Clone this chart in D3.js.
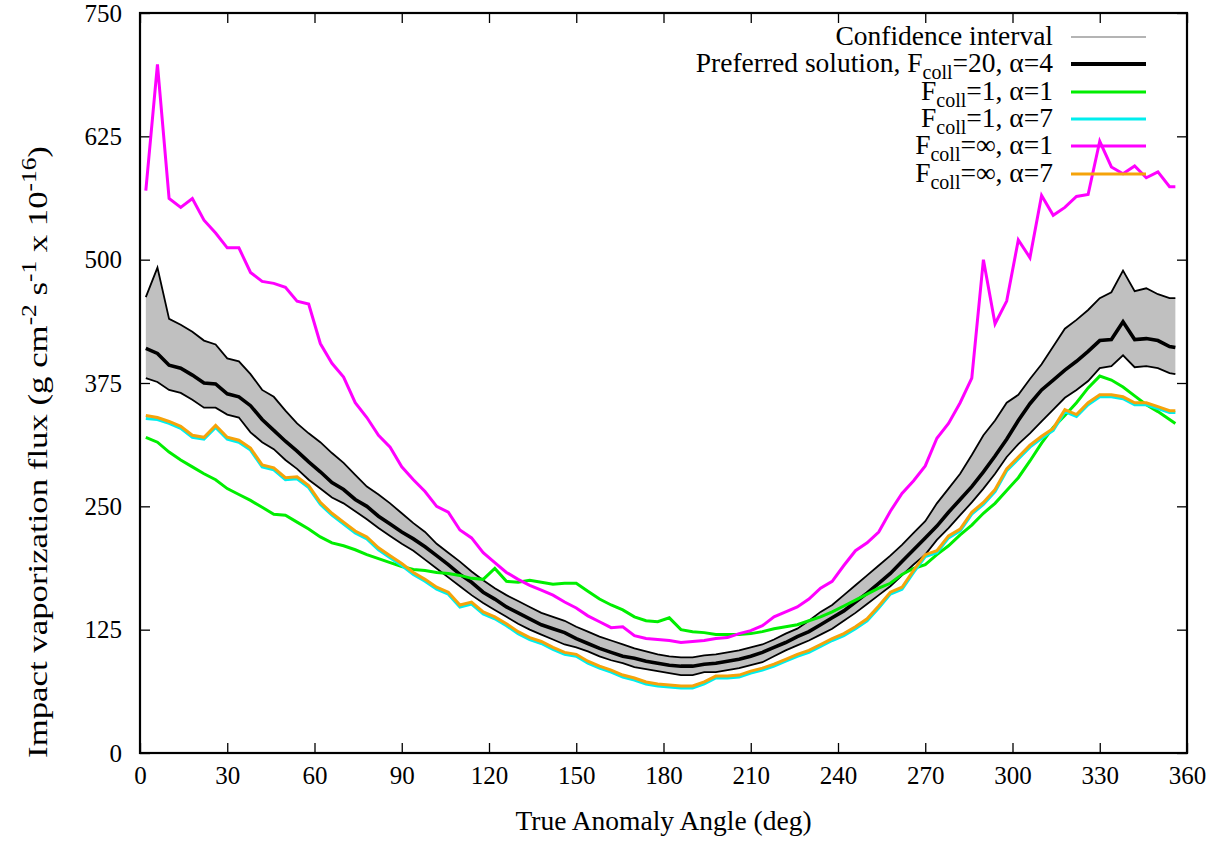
<!DOCTYPE html>
<html>
<head>
<meta charset="utf-8">
<script src="https://cdnjs.cloudflare.com/ajax/libs/d3/7.8.5/d3.min.js"></script>
<style>
    body { margin: 0; background: #fff; }
    svg text { font-family: "Liberation Serif", "Times New Roman", "DejaVu Serif", serif; fill: #000; }
</style>
</head>
<body>
<svg id="chart" width="1222" height="841"></svg>
<script>

// true anomaly angle (deg)
var angles = [2, 6, 10, 14, 18, 22, 26, 30, 34, 38,
    42, 46, 50, 54, 58, 62, 66, 70, 74, 78,
    82, 86, 90, 94, 98, 102, 106, 110, 114, 118,
    122, 126, 130, 134, 138, 142, 146, 150, 154, 158,
    162, 166, 170, 174, 178, 182, 186, 190, 194, 198,
    202, 206, 210, 214, 218, 222, 226, 230, 234, 238,
    242, 246, 250, 254, 258, 262, 266, 270, 274, 278,
    282, 286, 290, 294, 298, 302, 306, 310, 314, 318,
    322, 326, 330, 334, 338, 342, 346, 350, 354, 356];

// preferred solution, Fcoll=20, alpha=4
var preferred = [410, 405, 393, 390, 383, 375, 374, 364, 361, 352,
    338, 327, 316, 306, 295, 285, 274, 267, 257, 250,
    240, 232, 224, 217, 209, 200, 191, 181, 173, 163,
    156, 148, 142, 136, 130, 126, 122, 116, 111, 106,
    102, 98, 96, 93, 91, 89, 88, 88, 90, 91,
    93, 95, 98, 102, 107, 112, 118, 123, 130, 137,
    144, 153, 162, 172, 182, 194, 206, 218, 230, 244,
    257, 270, 285, 301, 318, 337, 354, 368, 378, 388,
    397, 407, 418, 419, 437, 419, 420, 418, 412, 411];

// confidence interval
var ciUpper = [462, 492, 440, 434, 427, 418, 414, 400, 397, 384,
    368, 361, 347, 334, 324, 315, 304, 294, 282, 270,
    262, 253, 243, 233, 224, 212, 203, 194, 184, 175,
    167, 160, 154, 148, 142, 138, 134, 128, 123, 118,
    114, 110, 106, 103, 100, 98, 97, 97, 99, 100,
    102, 104, 107, 110, 115, 121, 126, 134, 143, 150,
    160, 170, 180, 190, 200, 211, 223, 235, 253, 268,
    283, 302, 322, 337, 355, 363, 379, 394, 412, 430,
    439, 449, 461, 467, 489, 468, 471, 465, 461, 461];

var ciLower = [380, 376, 368, 365, 358, 350, 350, 343, 340, 325,
    315, 308, 297, 288, 277, 268, 259, 253, 245, 237,
    228, 220, 212, 205, 196, 187, 178, 169, 160, 152,
    145, 138, 131, 125, 120, 115, 110, 107, 103, 98,
    94, 91, 87, 85, 83, 81, 79, 79, 82, 82,
    84, 86, 89, 92, 98, 104, 109, 114, 120, 126,
    134, 142, 151, 160, 169, 180, 191, 201, 216, 228,
    241, 254, 268, 283, 300, 313, 324, 336, 348, 360,
    368, 377, 390, 392, 403, 391, 392, 390, 385, 384];

// Fcoll=1, alpha=1
var green = [320, 315, 305, 297, 290, 283, 277, 268, 262, 256,
    249, 242, 241, 234, 227, 219, 213, 210, 206, 201,
    197, 193, 189, 186, 185, 183, 182, 180, 177, 176,
    187, 174, 173, 175, 173, 171, 172, 172, 164, 156,
    150, 145, 138, 134, 133, 137, 125, 123, 122, 120,
    120, 120, 121, 123, 126, 128, 130, 134, 138, 143,
    149, 155, 161, 167, 172, 181, 187, 191, 201, 210,
    221, 231, 243, 253, 266, 279, 296, 314, 330, 342,
    355, 370, 382, 378, 371, 362, 353, 346, 338, 334];

// Fcoll=1, alpha=7
var cyan = [339, 338, 334, 329, 320, 318, 330, 318, 315, 307,
    290, 287, 277, 278, 269, 252, 241, 232, 223, 217,
    206, 198, 190, 181, 174, 166, 161, 148, 151, 141,
    136, 129, 121, 115, 111, 105, 100, 98, 91, 86,
    82, 77, 74, 70, 68, 67, 66, 66, 70, 76,
    76, 77, 81, 84, 88, 93, 98, 102, 108, 114,
    119, 126, 134, 147, 161, 166, 183, 199, 203, 218,
    225, 242, 252, 265, 286, 298, 310, 319, 327, 346,
    341, 353, 361, 361, 359, 353, 353, 349, 345, 345];

// Fcoll=inf, alpha=1
var magenta = [570, 698, 562, 553, 562, 540, 527, 512, 512, 487,
    478, 476, 472, 458, 455, 415, 395, 381, 355, 340,
    322, 310, 290, 277, 265, 250, 244, 226, 218, 203,
    193, 183, 176, 170, 165, 160, 153, 147, 139, 133,
    127, 128, 119, 116, 115, 114, 112, 113, 114, 116,
    117, 121, 124, 129, 138, 143, 148, 156, 167, 174,
    190, 205, 213, 224, 245, 263, 276, 291, 319, 334,
    355, 380, 500, 435, 458, 520, 502, 565, 545, 553,
    564, 566, 620, 594, 587, 595, 583, 589, 574, 574];

// Fcoll=inf, alpha=7
var orange = [342, 340, 336, 331, 322, 320, 332, 320, 317, 309,
    292, 289, 279, 280, 271, 254, 243, 234, 225, 219,
    208, 200, 192, 183, 176, 168, 163, 150, 153, 143,
    138, 131, 123, 117, 113, 107, 102, 100, 93, 88,
    84, 79, 76, 72, 70, 69, 68, 68, 72, 78,
    78, 79, 83, 86, 90, 95, 100, 104, 110, 116,
    121, 128, 136, 149, 163, 168, 185, 201, 205, 220,
    227, 244, 254, 267, 288, 300, 312, 321, 329, 348,
    343, 355, 363, 363, 361, 355, 355, 351, 347, 347];

var xTicks = [0, 30, 60, 90, 120, 150, 180, 210, 240, 270, 300, 330, 360];
var yTicks = [0, 125, 250, 375, 500, 625, 750];


const margin = {top: 13, right: 35, bottom: 88, left: 140};
const width = 1222 - margin.left - margin.right;
const height = 841 - margin.top - margin.bottom;
const serif = '"Liberation Serif", "Times New Roman", "DejaVu Serif", serif';

const xScale = d3.scaleLinear().domain([0, 360]).range([0, width]);
const yScale = d3.scaleLinear().domain([0, 750]).range([height, 0]);

const svg = d3.select("#chart");
const g = svg.append("g")
    .attr("transform", "translate(" + margin.left + "," + margin.top + ")");

var rows = angles.map(function(a, i) {
    return {
        a: a, pref: preferred[i], up: ciUpper[i], lo: ciLower[i],
        green: green[i], cyan: cyan[i], magenta: magenta[i], orange: orange[i]
    };
});

/* axes, ticks pointing inwards */
var bottomAxis = g.append("g")
    .attr("transform", "translate(0," + height + ")")
    .call(d3.axisBottom(xScale).tickValues(xTicks).tickSizeInner(-10).tickSizeOuter(0).tickPadding(13));

var topAxis = g.append("g")
    .call(d3.axisTop(xScale).tickValues(xTicks).tickSizeInner(-10).tickSizeOuter(0).tickFormat(""));

var leftAxis = g.append("g")
    .call(d3.axisLeft(yScale).tickValues(yTicks).tickSizeInner(-10).tickSizeOuter(0).tickPadding(18));

var rightAxis = g.append("g")
    .attr("transform", "translate(" + width + ",0)")
    .call(d3.axisRight(yScale).tickValues(yTicks).tickSizeInner(-10).tickSizeOuter(0).tickFormat(""));

[bottomAxis, topAxis, leftAxis, rightAxis].forEach(function(ax) {
    ax.select(".domain").remove();
    ax.selectAll(".tick line").attr("stroke", "#000").attr("stroke-width", 1.3);
    ax.selectAll(".tick text")
        .style("font-family", serif)
        .style("font-size", "25px")
        .attr("fill", "#000");
});


/* confidence band */
var area = d3.area()
    .x(function(d) { return xScale(d.a); })
    .y0(function(d) { return yScale(d.lo); })
    .y1(function(d) { return yScale(d.up); });

g.append("path")
    .datum(rows)
    .attr("d", area)
    .attr("fill", "#c0c0c0");

function lineOf(key) {
    return d3.line()
        .x(function(d) { return xScale(d.a); })
        .y(function(d) { return yScale(d[key]); });
}

var series = [
    {key: "up", color: "#000", w: 1.8},
    {key: "lo", color: "#000", w: 1.8},
    {key: "pref", color: "#000", w: 3.6},
    {key: "green", color: "#00ee00", w: 3},
    {key: "cyan", color: "#00eeee", w: 3},
    {key: "magenta", color: "#ff00ff", w: 3},
    {key: "orange", color: "#f5a30a", w: 3}
];

series.forEach(function(s) {
    g.append("path")
        .datum(rows)
        .attr("d", lineOf(s.key))
        .attr("fill", "none")
        .attr("stroke", s.color)
        .attr("stroke-width", s.w)
        .attr("stroke-linejoin", "miter");
});

/* frame */
g.append("rect")
    .attr("x", 0).attr("y", 0)
    .attr("width", width).attr("height", height)
    .attr("fill", "none")
    .attr("stroke", "#000")
    .attr("stroke-width", 2.2);


/* axis titles */
svg.append("text")
    .attr("x", margin.left + width / 2)
    .attr("y", 830)
    .attr("text-anchor", "middle")
    .style("font-size", "27.5px")
    .text("True Anomaly Angle (deg)");

var ylab = svg.append("text")
    .attr("text-anchor", "middle")
    .style("font-size", "27.5px");
ylab.append("tspan").text("Impact vaporization flux (g cm");
ylab.append("tspan").attr("dy", -11).style("font-size", "20px").text("-2");
ylab.append("tspan").attr("dy", 11).text(" s");
ylab.append("tspan").attr("dy", -11).style("font-size", "20px").text("-1");
ylab.append("tspan").attr("dy", 11).text(" x 10");
ylab.append("tspan").attr("dy", -11).style("font-size", "20px").text("-16");
ylab.append("tspan").attr("dy", 11).text(")");

// stretch the rotated label along its length to span the same height as the original
var ylabLen = ylab.node().getBBox().width;
var ylabScale = 612 / ylabLen;
ylab.attr("transform", "translate(47,452) rotate(-90) scale(" + ylabScale + ",1)");


/* legend */
var legendItems = [
    {pre: "Confidence interval", sub: null, post: null, color: "#b4b4b4", w: 2},
    {pre: "Preferred solution, F", sub: "coll", post: "=20, \u03b1=4", color: "#000", w: 4},
    {pre: "F", sub: "coll", post: "=1, \u03b1=1", color: "#00ee00", w: 3},
    {pre: "F", sub: "coll", post: "=1, \u03b1=7", color: "#00eeee", w: 3},
    {pre: "F", sub: "coll", post: "=\u221e, \u03b1=1", color: "#ff00ff", w: 3},
    {pre: "F", sub: "coll", post: "=\u221e, \u03b1=7", color: "#f5a30a", w: 3}
];
var legendY = [37, 64, 92, 119, 146, 174];

var legend = svg.append("g").attr("class", "legend");

legendItems.forEach(function(d, i) {
    var t = legend.append("text")
        .attr("x", 1053)
        .attr("y", legendY[i] + 8)
        .attr("text-anchor", "end")
        .style("font-size", "27.5px");
    t.append("tspan").text(d.pre);
    if (d.sub) {
        t.append("tspan").attr("dy", 7).style("font-size", "20px").text(d.sub);
        t.append("tspan").attr("dy", -7).text(d.post);
    }
    legend.append("line")
        .attr("x1", 1071).attr("x2", 1146)
        .attr("y1", legendY[i]).attr("y2", legendY[i])
        .attr("stroke", d.color)
        .attr("stroke-width", d.w);
});

</script>
</body>
</html>
